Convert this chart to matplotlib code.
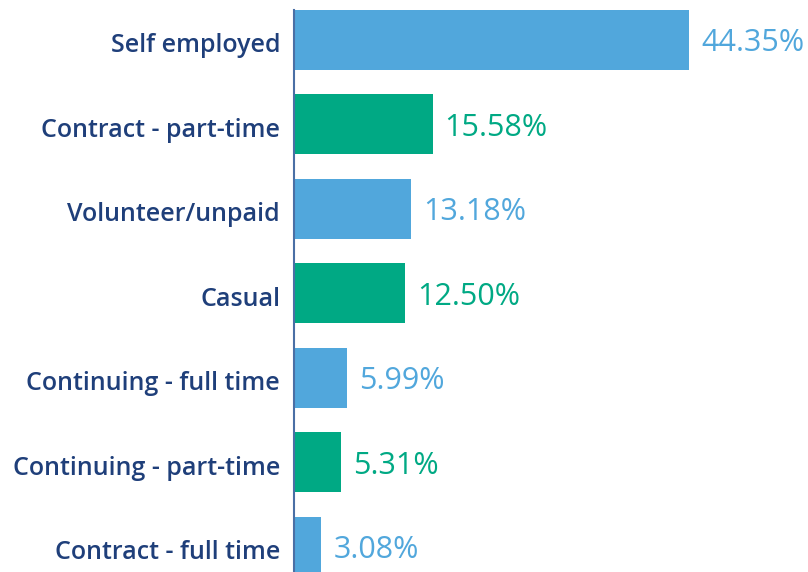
import matplotlib.pyplot as plt
import matplotlib.transforms as mtransforms

# datos
categorias = ['Self employed', 'Contract - part-time', 'Volunteer/unpaid', 'Casual',
              'Continuing - full time', 'Continuing - part-time', 'Contract - full time']
valores = [44.35, 15.58, 13.18, 12.50, 5.99, 5.31, 3.08]
etiquetas = ['44.35%', '15.58%', '13.18%', '12.50%', '5.99%', '5.31%', '3.08%']

azul = '#51a7dc'
verde = '#00a984'
navy = '#1f3f7a'
colores = [azul if i % 2 == 0 else verde for i in range(len(valores))]

plt.rcParams['font.family'] = ['Open Sans', 'DejaVu Sans']

fig = plt.figure(figsize=(8.08, 5.72), dpi=100)
ax = fig.add_axes([294 / 808, 0, 514 / 808, 1])

pos = list(range(len(valores)))
ax.barh(pos, valores, height=0.71, color=colores)

for p, v, t, c in zip(pos, valores, etiquetas, colores):
    ax.annotate(t, (v, p), xytext=(8.5, -2.5), textcoords='offset points',
                va='center', ha='left', fontsize=22, color=c, fontweight='medium')

ax.set_xlim(0, 57.7)
ax.set_ylim(6.296, -0.473)
ax.set_yticks(pos)
ax.set_yticklabels(categorias, fontsize=18, color=navy, fontweight='semibold')
ax.tick_params(axis='y', length=0, pad=10)
# bajar un poco las etiquetas
desplaz = mtransforms.ScaledTranslation(0, -2 / 72, fig.dpi_scale_trans)
for lbl in ax.get_yticklabels():
    lbl.set_transform(lbl.get_transform() + desplaz)
ax.set_xticks([])
for s in ['top', 'right', 'bottom']:
    ax.spines[s].set_visible(False)
ax.spines['left'].set_color('#4a6fa5')
ax.spines['left'].set_linewidth(1.5)
ax.spines['left'].set_bounds(-0.355, 6.296)

plt.savefig('out.png', dpi=100)
